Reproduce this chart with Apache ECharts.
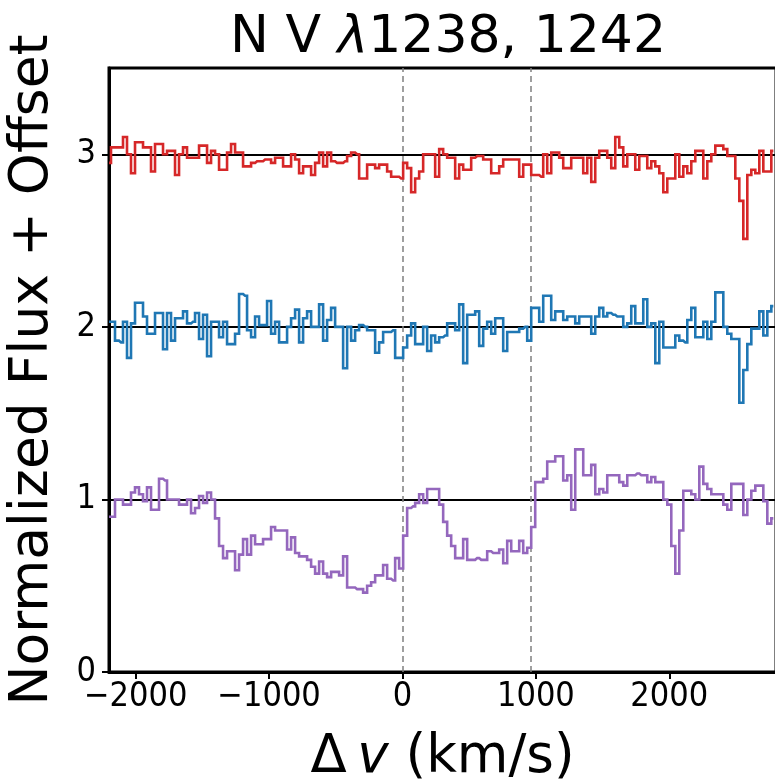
<!DOCTYPE html>
<html>
<head>
<meta charset="utf-8">
<script src="https://cdn.jsdelivr.net/npm/echarts@6/dist/echarts.min.js"></script>
<style>
  html, body { margin: 0; padding: 0; background: #ffffff; }
  #chart { width: 775px; height: 783px; }
</style>
</head>
<body>
<div id="chart"></div>
<script>
// Velocity grid of the binned spectra (bin centres, km/s)
const V_START = -2200;
const BIN_WIDTH = 30;

// Normalized flux + offset, one value per velocity bin
const fluxRed = [
  2.95, 3.04, 3.04, 3.04, 3.10, 3.00, 2.89, 3.07, 3.07, 3.04,
  3.04, 2.90, 3.06, 3.06, 3.00, 3.02, 3.02, 2.88, 3.00, 3.04,
  2.98, 2.98, 2.98, 3.05, 3.05, 2.95, 3.02, 3.00, 2.91, 2.91,
  3.01, 3.06, 3.01, 3.01, 2.93, 2.93, 2.95, 2.96, 2.96, 2.97,
  2.97, 2.95, 2.98, 2.98, 2.93, 2.93, 3.00, 2.97, 2.89, 2.93,
  2.93, 2.88, 2.95, 3.01, 2.93, 3.01, 2.96, 2.95, 2.95, 2.96,
  2.99, 3.01, 3.00, 2.86, 2.86, 2.94, 2.94, 2.92, 2.94, 2.94,
  2.90, 2.87, 2.87, 2.86, 2.95, 2.92, 2.78, 2.86, 2.90, 3.00,
  3.00, 3.00, 2.87, 3.03, 3.00, 2.98, 2.98, 2.86, 2.94, 2.91,
  2.91, 2.98, 2.99, 2.99, 2.97, 2.97, 2.89, 2.89, 2.93, 2.97,
  2.97, 2.97, 2.97, 2.87, 2.94, 2.94, 2.88, 2.88, 2.87, 3.00,
  2.89, 3.01, 3.01, 2.98, 2.92, 2.92, 2.98, 2.98, 2.98, 2.89,
  2.98, 2.84, 2.98, 3.02, 3.02, 2.98, 2.92, 3.10, 3.04, 2.93,
  3.00, 3.00, 2.91, 2.99, 2.99, 2.92, 2.96, 2.93, 2.89, 2.78,
  2.86, 2.86, 3.00, 2.87, 2.93, 2.89, 2.96, 3.02, 3.02, 2.86,
  2.96, 3.00, 3.05, 3.05, 3.03, 2.99, 2.99, 2.86, 2.73, 2.51,
  2.88, 2.91, 2.89, 3.02, 2.90, 2.90, 3.02
];

const fluxBlue = [
  2.03, 2.03, 1.92, 1.91, 2.03, 1.82, 2.02, 2.14, 2.14, 2.06,
  1.96, 1.96, 2.08, 2.08, 1.87, 2.08, 1.92, 2.05, 2.05, 2.09,
  2.02, 2.03, 2.08, 1.93, 2.07, 1.83, 2.03, 2.03, 1.94, 2.03,
  1.90, 1.90, 1.96, 2.19, 2.18, 1.98, 1.94, 2.06, 2.01, 2.01,
  2.15, 1.96, 2.03, 1.91, 1.91, 2.00, 2.05, 2.10, 1.91, 2.05,
  2.09, 2.00, 2.00, 2.13, 1.92, 2.04, 2.11, 2.00, 2.00, 1.76,
  2.00, 1.92, 1.98, 2.01, 2.00, 1.98, 1.98, 1.85, 1.91, 1.97,
  1.97, 1.98, 1.82, 1.82, 1.88, 1.95, 2.02, 1.90, 1.90, 2.00,
  1.86, 1.95, 1.91, 1.94, 1.95, 2.02, 2.02, 1.98, 2.13, 1.79,
  2.07, 2.07, 2.09, 1.89, 1.99, 2.03, 1.96, 2.05, 2.05, 1.86,
  1.97, 1.97, 1.97, 1.99, 2.00, 1.92, 2.11, 2.11, 2.03, 2.18,
  2.18, 2.04, 2.09, 2.09, 2.04, 2.06, 2.06, 2.02, 2.06, 2.06,
  2.06, 1.96, 2.06, 2.11, 2.06, 2.08, 2.07, 2.06, 2.06, 2.00,
  2.02, 2.12, 2.02, 2.02, 2.16, 2.00, 2.02, 1.79, 2.03, 1.88,
  1.88, 1.88, 1.95, 1.92, 1.91, 2.04, 2.11, 1.94, 1.94, 2.03,
  1.93, 2.03, 2.20, 2.20, 2.00, 1.96, 1.93, 1.93, 1.56, 1.75,
  1.90, 1.99, 1.99, 2.09, 1.95, 2.09, 2.12
];

const fluxPurple = [
  0.90, 0.90, 1.00, 1.00, 0.97, 0.97, 1.04, 1.07, 1.03, 0.99,
  1.07, 0.94, 0.94, 1.12, 1.11, 1.00, 1.00, 1.00, 0.97, 0.97,
  1.00, 0.92, 0.95, 1.02, 0.98, 1.04, 1.00, 0.89, 0.73, 0.66,
  0.70, 0.70, 0.59, 0.68, 0.77, 0.68, 0.79, 0.74, 0.74, 0.77,
  0.77, 0.84, 0.82, 0.82, 0.82, 0.71, 0.78, 0.69, 0.67, 0.67,
  0.65, 0.61, 0.57, 0.64, 0.57, 0.55, 0.58, 0.58, 0.56, 0.67,
  0.49, 0.49, 0.48, 0.48, 0.46, 0.50, 0.52, 0.56, 0.56, 0.62,
  0.54, 0.53, 0.66, 0.60, 0.79, 0.95, 0.96, 0.98, 1.03, 0.98,
  1.06, 1.06, 1.06, 0.97, 0.87, 0.79, 0.73, 0.66, 0.66, 0.77,
  0.65, 0.65, 0.66, 0.65, 0.65, 0.70, 0.69, 0.69, 0.71, 0.63,
  0.76, 0.70, 0.70, 0.76, 0.69, 0.72, 0.84, 1.10, 1.10, 1.12,
  1.22, 1.22, 1.25, 1.25, 1.11, 1.14, 0.94, 1.29, 1.29, 1.14,
  1.14, 1.20, 1.03, 1.06, 1.04, 1.14, 1.14, 1.14, 1.10, 1.08,
  1.14, 1.14, 1.15, 1.14, 1.14, 1.10, 1.13, 1.10, 1.10, 1.00,
  0.97, 0.73, 0.57, 0.82, 1.05, 1.05, 1.03, 1.00, 1.19, 1.09,
  1.06, 1.03, 1.03, 1.03, 0.97, 0.94, 1.09, 1.09, 1.09, 0.91,
  1.00, 1.05, 1.08, 1.08, 0.99, 0.86, 0.89
];

// Axis ticks and reference marks
const xTickValues = [-2000, -1000, 0, 1000, 2000];
const yTickValues = [0, 1, 2, 3];
const continuumLevels = [1, 2, 3];
const doubletVelocities = [0, 964];   // N V 1238 and 1242 components

const FONT = 'DejaVu Sans';
const TICK_FONT = "'Liberation Sans Narrow', 'DejaVu Sans Condensed', 'DejaVu Sans'";

function toPoints(values) {
  return values.map((f, i) => [V_START + BIN_WIDTH * i, f]);
}

function minusSign(v) {
  return v < 0 ? '\u2212' + Math.abs(v) : String(v);
}

function spectrum(name, color, values) {
  return {
    name: name,
    type: 'line',
    step: 'middle',
    data: toPoints(values),
    showSymbol: false,
    symbol: 'none',
    clip: true,
    lineStyle: { color: color, width: 2.6, join: 'miter' },
    z: 5
  };
}

const chart = echarts.init(document.getElementById('chart'), null, { renderer: 'canvas' });

chart.setOption({
  animation: false,
  backgroundColor: '#ffffff',
  title: {
    text: '{t|N V }{l|\u03bb}{t|1238, 1242}',
    left: 443,
    textAlign: 'center',
    top: 7,
    textStyle: {
      fontWeight: 'normal',
      rich: {
        t: { fontFamily: FONT, fontSize: 52, fontWeight: 'normal', color: '#000' },
        l: { fontFamily: FONT, fontSize: 52, fontWeight: 'normal', fontStyle: 'italic', color: '#000' }
      }
    }
  },
  grid: {
    left: 109, right: -1, top: 68, bottom: 111,
    outerBoundsMode: 'none',
    containLabel: false,
    show: true, borderColor: '#000', borderWidth: 3, backgroundColor: 'transparent'
  },
  xAxis: {
    type: 'value',
    min: -2200,
    max: 2800,
    name: '{t|\u0394\u2009}{v|v}{t| (km/s)}',
    nameLocation: 'middle',
    nameGap: 60,
    nameTextStyle: {
      rich: {
        t: { fontFamily: FONT, fontSize: 53, color: '#000' },
        v: { fontFamily: FONT, fontSize: 53, fontStyle: 'italic', color: '#000' }
      }
    },
    axisLine: { show: true, onZero: false, lineStyle: { color: '#000', width: 3 } },
    axisTick: {
      show: true, inside: false, length: 7,
      lineStyle: { color: '#000', width: 2 },
      customValues: xTickValues
    },
    axisLabel: {
      customValues: xTickValues,
      formatter: minusSign,
      fontFamily: TICK_FONT, fontSize: 34, color: '#000', margin: 8
    },
    splitLine: { show: false }
  },
  yAxis: {
    type: 'value',
    min: 0,
    max: 3.5,
    name: 'Normalized Flux + Offset',
    nameLocation: 'middle',
    nameGap: 49,
    nameRotate: 90,
    nameTextStyle: { fontFamily: FONT, fontSize: 53.5, color: '#000' },
    axisLine: { show: true, onZero: false, lineStyle: { color: '#000', width: 3 } },
    axisTick: {
      show: true, inside: false, length: 7,
      lineStyle: { color: '#000', width: 2 },
      customValues: yTickValues
    },
    axisLabel: {
      customValues: yTickValues,
      fontFamily: TICK_FONT, fontSize: 34, color: '#000', margin: 13
    },
    splitLine: { show: false }
  },
  series: [
    {
      name: 'reference',
      type: 'line',
      data: [],
      z: 2,
      markLine: {
        silent: true,
        symbol: ['none', 'none'],
        label: { show: false },
        animation: false,
        data: continuumLevels.map(y => ({ yAxis: y, lineStyle: { color: '#000', width: 2, type: 'solid' } }))
          .concat(doubletVelocities.map(x => ({ xAxis: x, lineStyle: { color: '#808080', width: 1.5, type: [6, 4] } })))
      }
    },
    spectrum('purple', '#9467bd', fluxPurple),
    spectrum('blue', '#1f77b4', fluxBlue),
    spectrum('red', '#d62728', fluxRed)
  ]
});
</script>
</body>
</html>
